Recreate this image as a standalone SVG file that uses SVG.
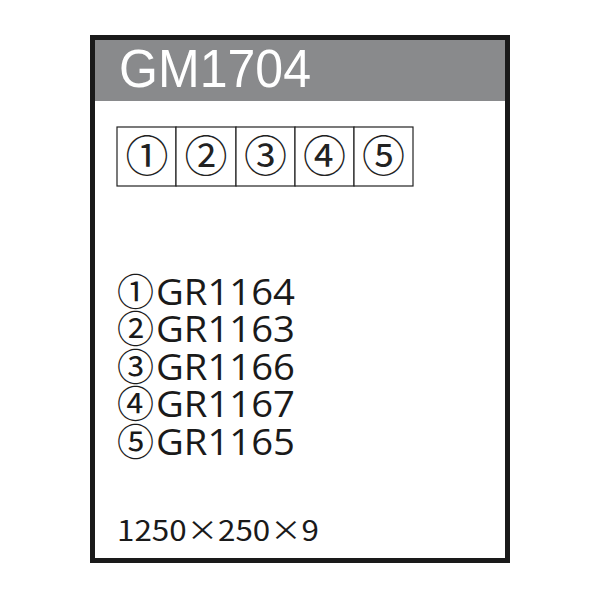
<svg xmlns="http://www.w3.org/2000/svg" width="600" height="600" viewBox="0 0 600 600">
<style>
.t{font-family:"Open Sans","Noto Sans",sans-serif;fill:#1a1a1a;font-weight:500}
.c{font-family:"Noto Sans CJK JP",sans-serif;fill:#1a1a1a}
.cell{fill:#fff;stroke:#222;stroke-width:1.2}
.cn{font-family:"Noto Sans CJK JP",sans-serif;font-size:43px;fill:#222;text-anchor:middle}
</style>
<rect x="0" y="0" width="600" height="600" fill="#fff"/>
<g id="frame">
<rect x="92.5" y="37.5" width="415" height="523" fill="#fff" stroke="#1a1a1a" stroke-width="5"/>
<rect x="95" y="40" width="410" height="61" fill="#898a8c"/>
<text x="119" y="87" font-family="Liberation Sans,Arial,sans-serif" font-size="54" fill="#fff" textLength="192" lengthAdjust="spacingAndGlyphs">GM1704</text>
</g>
<g id="cells">
<rect class="cell" x="117" y="127" width="59" height="59"/>
<rect class="cell" x="176" y="127" width="60" height="59"/>
<rect class="cell" x="236" y="127" width="59" height="59"/>
<rect class="cell" x="295" y="127" width="59" height="59"/>
<rect class="cell" x="354" y="127" width="59" height="59"/>
<text class="cn" x="147" y="172">①</text>
<text class="cn" x="206" y="172">②</text>
<text class="cn" x="265.5" y="172">③</text>
<text class="cn" x="324.5" y="172">④</text>
<text class="cn" x="383.5" y="172">⑤</text>
</g>
<g id="list" font-size="37">
<text y="305"><tspan class="c" x="117" dy="1">①</tspan><tspan class="t" x="156" dy="-1" textLength="139" lengthAdjust="spacingAndGlyphs">GR1164</tspan></text>
<text y="342"><tspan class="c" x="117" dy="1">②</tspan><tspan class="t" x="156" dy="-1" textLength="139" lengthAdjust="spacingAndGlyphs">GR1163</tspan></text>
<text y="380"><tspan class="c" x="117" dy="1">③</tspan><tspan class="t" x="156" dy="-1" textLength="139" lengthAdjust="spacingAndGlyphs">GR1166</tspan></text>
<text y="417"><tspan class="c" x="117" dy="1">④</tspan><tspan class="t" x="156" dy="-1" textLength="139" lengthAdjust="spacingAndGlyphs">GR1167</tspan></text>
<text y="455"><tspan class="c" x="117" dy="1">⑤</tspan><tspan class="t" x="156" dy="-1" textLength="139" lengthAdjust="spacingAndGlyphs">GR1165</tspan></text>
</g>
<text class="c" x="117" y="541" font-size="28" textLength="202" lengthAdjust="spacingAndGlyphs">1250×250×9</text>
</svg>
